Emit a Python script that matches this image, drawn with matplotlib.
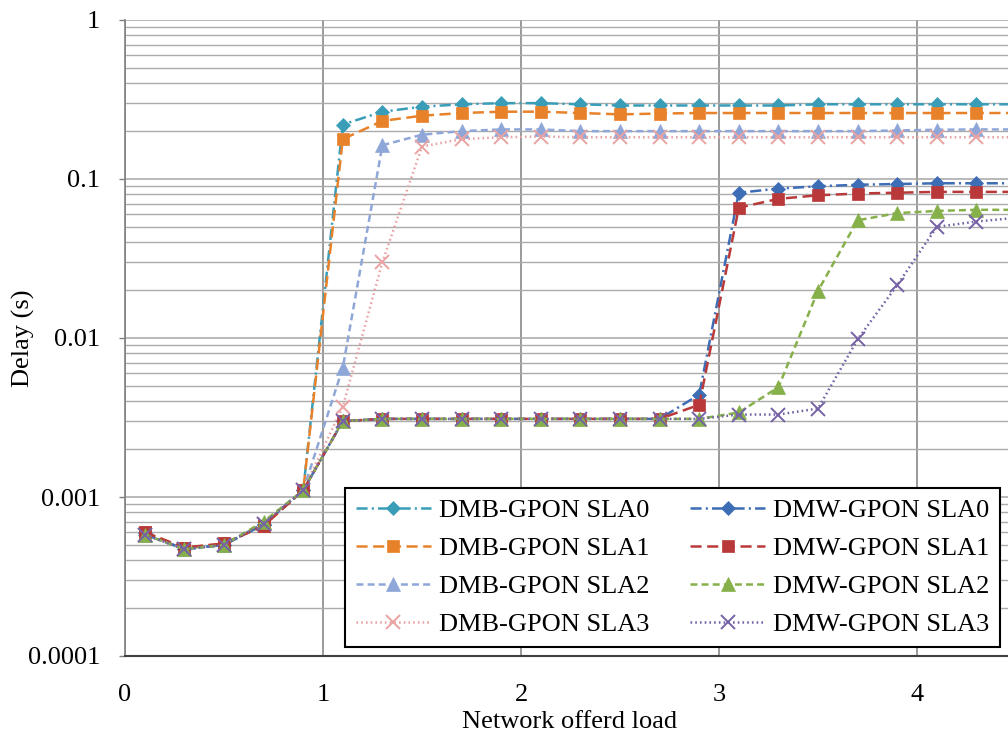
import matplotlib
matplotlib.use("Agg")
import matplotlib.pyplot as plt
from matplotlib.ticker import LogLocator, FixedLocator, NullFormatter

plt.rcParams['font.family'] = ['Liberation Serif', 'DejaVu Serif']
plt.rcParams['lines.scale_dashes'] = False

# ---- data ----
load = [0.1, 0.3, 0.5, 0.7, 0.9, 1.1, 1.3, 1.5, 1.7, 1.9, 2.1, 2.3, 2.5,
        2.7, 2.9, 3.1, 3.3, 3.5, 3.7, 3.9, 4.1, 4.3, 4.5]

dmb_sla0 = [0.00058, 0.00047, 0.0005, 0.00068, 0.0011, 0.22, 0.265, 0.285, 0.295,
            0.30, 0.30, 0.295, 0.29, 0.29, 0.29, 0.29, 0.29, 0.295, 0.295,
            0.295, 0.295, 0.295, 0.295]
dmb_sla1 = [0.0006, 0.00048, 0.00051, 0.00066, 0.0011, 0.178, 0.232, 0.25, 0.26,
            0.265, 0.265, 0.26, 0.255, 0.258, 0.26, 0.26, 0.26, 0.26, 0.26,
            0.26, 0.26, 0.26, 0.26]
dmb_sla2 = [0.00058, 0.00047, 0.0005, 0.00069, 0.0011, 0.0065, 0.163, 0.19, 0.2,
            0.205, 0.205, 0.2, 0.2, 0.2, 0.2, 0.2, 0.2, 0.2, 0.2,
            0.202, 0.204, 0.205, 0.205]
dmb_sla3 = [0.00058, 0.00047, 0.0005, 0.00068, 0.0011, 0.0037, 0.03, 0.16, 0.178,
            0.183, 0.185, 0.183, 0.183, 0.183, 0.183, 0.183, 0.183, 0.183, 0.183,
            0.183, 0.183, 0.183, 0.183]
dmw_sla0 = [0.00059, 0.00047, 0.0005, 0.00067, 0.0011, 0.003, 0.0031, 0.0031, 0.0031,
            0.0031, 0.0031, 0.0031, 0.0031, 0.0031, 0.0044, 0.082, 0.087, 0.09,
            0.092, 0.093, 0.094, 0.094, 0.094]
dmw_sla1 = [0.0006, 0.00048, 0.00051, 0.00066, 0.0011, 0.003, 0.0031, 0.0031, 0.0031,
            0.0031, 0.0031, 0.0031, 0.0031, 0.0031, 0.0038, 0.066, 0.075, 0.079,
            0.081, 0.082, 0.083, 0.083, 0.083]
dmw_sla2 = [0.00058, 0.00047, 0.0005, 0.0007, 0.0011, 0.003, 0.0031, 0.0031, 0.0031,
            0.0031, 0.0031, 0.0031, 0.0031, 0.0031, 0.0031, 0.0034, 0.0049, 0.0198,
            0.055, 0.061, 0.063, 0.064, 0.064]
dmw_sla3 = [0.00058, 0.00047, 0.0005, 0.00068, 0.0011, 0.003, 0.0031, 0.0031, 0.0031,
            0.0031, 0.0031, 0.0031, 0.0031, 0.0031, 0.0031, 0.0033, 0.0033, 0.0036,
            0.0098, 0.0215, 0.05, 0.054, 0.057]

labels = ['DMB-GPON SLA0', 'DMB-GPON SLA1', 'DMB-GPON SLA2', 'DMB-GPON SLA3',
          'DMW-GPON SLA0', 'DMW-GPON SLA1', 'DMW-GPON SLA2', 'DMW-GPON SLA3']
series = [dmb_sla0, dmb_sla1, dmb_sla2, dmb_sla3, dmw_sla0, dmw_sla1, dmw_sla2, dmw_sla3]

x_ticks = [0, 1, 2, 3, 4]
y_ticks = [0.0001, 0.001, 0.01, 0.1, 1]
y_ticklabels = ['0.0001', '0.001', '0.01', '0.1', '1']

# ---- styles ----
colors = ['#3A9DB8', '#E8822A', '#8FA7D8', '#E9A3A3',
          '#3D6DB5', '#B9393A', '#86B04A', '#7563A6']
markers = ['D', 's', '^', 'x', 'D', 's', '^', 'x']
msizes = [7, 9, 9.5, 10, 7, 9, 9.5, 10]
styles = [(0, (8, 3, 1.5, 3)), (0, (8, 4)), (0, (5, 3)), (0, (1.2, 2.2)),
          (0, (8, 3, 1.5, 3)), (0, (8, 4)), (0, (5, 3)), (0, (1.2, 2.2))]

W, H = 1008, 735
fig = plt.figure(figsize=(W / 100, H / 100), dpi=100)
left_px, right_px, top_px, bot_px = 125, 1016, 20, 656
ax = fig.add_axes([left_px / W, 1 - bot_px / H, (right_px - left_px) / W, (bot_px - top_px) / H])

for ys, lab, c, m, ms, ls in zip(series, labels, colors, markers, msizes, styles):
    ax.plot(load, ys, color=c, marker=m, markersize=ms, linestyle=ls, linewidth=1.8,
            markeredgewidth=1.4 if m == 'x' else 0.5, markeredgecolor=c, label=lab,
            clip_on=True)

ax.set_yscale('log')
ax.set_ylim(0.0001, 1)
ax.set_xlim(0, 4.5)

ax.yaxis.set_major_locator(FixedLocator(y_ticks))
ax.set_yticklabels(y_ticklabels)
ax.yaxis.set_minor_locator(LogLocator(base=10, subs=range(2, 10)))
ax.yaxis.set_minor_formatter(NullFormatter())
ax.set_xticks(x_ticks)
ax.set_xticklabels([str(v) for v in x_ticks])

ax.grid(True, which='major', axis='y', color='#A6A6A6', linewidth=1.1)
ax.grid(True, which='minor', axis='y', color='#ABABAB', linewidth=1.0)
ax.grid(True, which='major', axis='x', color='#7F7F7F', linewidth=1.1)
ax.set_axisbelow(True)

ax.tick_params(axis='y', which='major', length=4.3, width=1, color='#808080',
               labelsize=19, pad=13.5, direction='out')
ax.tick_params(axis='y', which='minor', length=0)
ax.tick_params(axis='x', which='major', length=0, labelsize=19, pad=20.5)

for s in ['top', 'right']:
    ax.spines[s].set_visible(False)
ax.spines['left'].set_color('#808080')
ax.spines['left'].set_linewidth(1.2)
ax.spines['bottom'].set_color('#404040')
ax.spines['bottom'].set_linewidth(1.5)

fig.text(23 / W, 1 - 338 / H, 'Delay (s)', rotation=90, ha='center', va='center', fontsize=19)
fig.text(570 / W, 1 - 722 / H, 'Network offerd load', ha='center', va='center', fontsize=19)

leg = ax.legend(loc='upper left', bbox_to_anchor=(345 / W, 1 - 488 / H),
                bbox_transform=fig.transFigure, ncol=2, fontsize=19,
                frameon=True, fancybox=False, edgecolor='black', framealpha=1,
                borderaxespad=0, handlelength=2.85, handletextpad=0.3,
                columnspacing=1.55, labelspacing=0.55, borderpad=0.4)
leg.get_frame().set_linewidth(1.5)

fig.savefig('out.png', dpi=100)
